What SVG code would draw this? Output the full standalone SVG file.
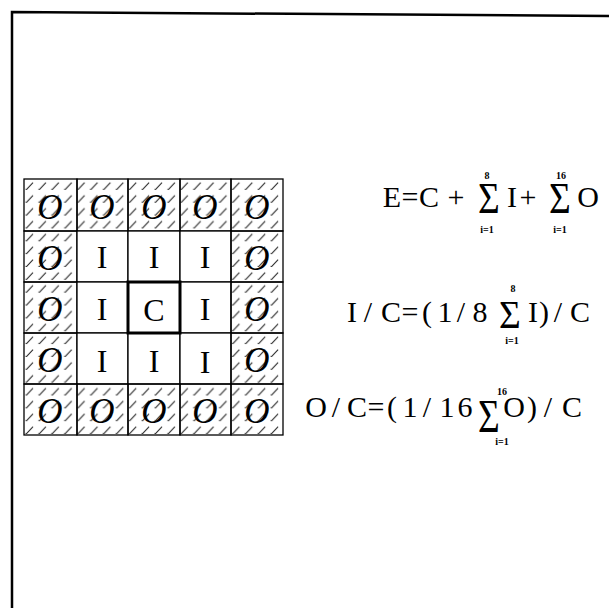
<svg xmlns="http://www.w3.org/2000/svg" width="609" height="608" viewBox="0 0 609 608">
<defs>
<pattern id="hatch" patternUnits="userSpaceOnUse" x="24" y="179" width="12.9" height="12.85">
<path d="M2.5,10.5 L9,3.5 M2.5,10.5 L1.5,10" stroke="#222" stroke-width="1" fill="none"/>
</pattern>
</defs>
<style>
.bd{fill:none;stroke:#000;stroke-width:2.5}
.oc{fill:url(#hatch);stroke:#000;stroke-width:1.3}
.ic{fill:#fff;stroke:#000;stroke-width:1.3}
.cc{fill:#fff;stroke:#000;stroke-width:3}
.lo{font-family:"Liberation Serif",serif;font-style:italic;font-size:35px;text-anchor:middle;fill:#000}
.li{font-family:"Liberation Serif",serif;font-size:32px;text-anchor:middle;fill:#000}
.eq{font-family:"Liberation Serif",serif;font-size:30px;text-anchor:middle;fill:#000}
.sg{font-family:"Liberation Serif",serif;font-size:44px;text-anchor:middle;fill:#000}
.sm{font-family:"Liberation Serif",serif;font-size:10px;font-weight:bold;text-anchor:middle;fill:#000}
</style>
<rect width="609" height="608" fill="#fff"/>
<path class="bd" d="M12,608 L12,12 L609,16"/>

<g id="grid">
<g id="r1">
<g id="c11"><rect class="oc" x="24" y="179" width="53" height="52"/><text class="lo" x="50" y="219">O</text></g>
<g id="c12"><rect class="oc" x="77" y="179" width="51" height="52"/><text class="lo" x="102" y="219">O</text></g>
<g id="c13"><rect class="oc" x="128" y="179" width="52" height="52"/><text class="lo" x="154" y="219">O</text></g>
<g id="c14"><rect class="oc" x="180" y="179" width="51" height="52"/><text class="lo" x="205" y="219">O</text></g>
<g id="c15"><rect class="oc" x="231" y="179" width="52" height="52"/><text class="lo" x="257" y="219">O</text></g>
</g>
<g id="r2">
<g id="c21"><rect class="oc" x="24" y="231" width="53" height="51"/><text class="lo" x="50" y="270">O</text></g>
<g id="c22"><rect class="ic" x="77" y="231" width="51" height="51"/><text class="li" x="102" y="268">I</text></g>
<g id="c23"><rect class="ic" x="128" y="231" width="52" height="51"/><text class="li" x="154" y="268">I</text></g>
<g id="c24"><rect class="ic" x="180" y="231" width="51" height="51"/><text class="li" x="205" y="268">I</text></g>
<g id="c25"><rect class="oc" x="231" y="231" width="52" height="51"/><text class="lo" x="257" y="270">O</text></g>
</g>
<g id="r3">
<g id="c31"><rect class="oc" x="24" y="282" width="53" height="51"/><text class="lo" x="50" y="321">O</text></g>
<g id="c32"><rect class="ic" x="77" y="282" width="51" height="51"/><text class="li" x="102" y="320">I</text></g>
<g id="c34"><rect class="ic" x="180" y="282" width="51" height="51"/><text class="li" x="205" y="320">I</text></g>
<g id="c35"><rect class="oc" x="231" y="282" width="52" height="51"/><text class="lo" x="257" y="321">O</text></g>
</g>
<g id="r4">
<g id="c41"><rect class="oc" x="24" y="333" width="53" height="51"/><text class="lo" x="50" y="372">O</text></g>
<g id="c42"><rect class="ic" x="77" y="333" width="51" height="51"/><text class="li" x="102" y="372">I</text></g>
<g id="c43"><rect class="ic" x="128" y="333" width="52" height="51"/><text class="li" x="154" y="372">I</text></g>
<g id="c44"><rect class="ic" x="180" y="333" width="51" height="51"/><text class="li" x="205" y="373">I</text></g>
<g id="c45"><rect class="oc" x="231" y="333" width="52" height="51"/><text class="lo" x="257" y="372">O</text></g>
</g>
<g id="r5">
<g id="c51"><rect class="oc" x="24" y="384" width="53" height="51"/><text class="lo" x="50" y="423">O</text></g>
<g id="c52"><rect class="oc" x="77" y="384" width="51" height="51"/><text class="lo" x="102" y="423">O</text></g>
<g id="c53"><rect class="oc" x="128" y="384" width="52" height="51"/><text class="lo" x="154" y="423">O</text></g>
<g id="c54"><rect class="oc" x="180" y="384" width="51" height="51"/><text class="lo" x="205" y="423">O</text></g>
<g id="c55"><rect class="oc" x="231" y="384" width="52" height="51"/><text class="lo" x="257" y="423">O</text></g>
</g>
<g id="center"><rect class="cc" x="128" y="282" width="52" height="51"/><text class="li" x="154" y="321">C</text></g>
</g>

<g id="eq1">
<text class="eq" y="207"><tspan x="392">E</tspan><tspan x="410">=</tspan><tspan x="429">C</tspan><tspan x="456">+</tspan><tspan x="512">I</tspan><tspan x="528">+</tspan><tspan x="588">O</tspan></text>
<text class="sg" transform="translate(489,213) scale(0.85,1)">Σ</text>
<text class="sg" transform="translate(560,213) scale(0.85,1)">Σ</text>
<text class="sm" x="487" y="179">8</text>
<text class="sm" x="487" y="233">i=1</text>
<text class="sm" x="561" y="179">16</text>
<text class="sm" x="560" y="233">i=1</text>
</g>

<g id="eq2">
<text class="eq" y="322"><tspan x="352">I</tspan><tspan x="368">/</tspan><tspan x="391">C</tspan><tspan x="410">=</tspan><tspan x="427">(</tspan><tspan x="445">1</tspan><tspan x="461">/</tspan><tspan x="480">8</tspan><tspan x="533">I</tspan><tspan x="544">)</tspan><tspan x="558">/</tspan><tspan x="580">C</tspan></text>
<text class="sg" transform="translate(510,328) scale(0.85,0.93)">Σ</text>
<text class="sm" x="513" y="292">8</text>
<text class="sm" x="512" y="344">i=1</text>
</g>

<g id="eq3">
<text class="eq" y="417"><tspan x="316">O</tspan><tspan x="336">/</tspan><tspan x="357">C</tspan><tspan x="376">=</tspan><tspan x="392">(</tspan><tspan x="410">1</tspan><tspan x="427">/</tspan><tspan x="447">1</tspan><tspan x="465">6</tspan><tspan x="514">O</tspan><tspan x="532">)</tspan><tspan x="548">/</tspan><tspan x="572">C</tspan></text>
<text class="sg" transform="translate(489,432) scale(0.85,1.05)">Σ</text>
<text class="sm" x="502" y="395">16</text>
<text class="sm" x="502" y="445">i=1</text>
</g>
</svg>
